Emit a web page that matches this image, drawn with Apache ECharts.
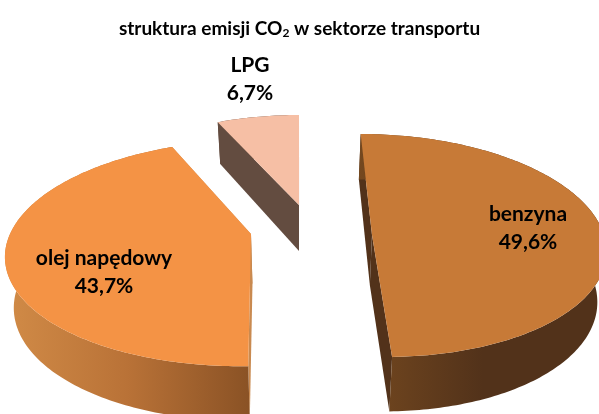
<html>
<head>
    <meta http-equiv="Content-Type" content="text/html; charset=utf-8" />
    <script src="https://cdn.jsdelivr.net/npm/echarts@6/dist/echarts.min.js"></script>
    <style>
        html, body { margin: 0; padding: 0; background: #fff; }
        #main { width: 599px; height: 414px; }
    </style>
    <title></title>
</head>
<body>
    <div id="main"></div>
    <script type="text/javascript">
        //dane
        var categories = ['benzyna', 'olej napędowy', 'LPG'];
        var shares = [49.6, 43.7, 6.7];
        var chartTitle = 'struktura emisji CO{sub|2} w sektorze transportu';

        //wyglad - kazdy wycinek ma wlasny rzut (wysuniety i w perspektywie)
        var views = [
            { cx: 372, cy: 235, rx: 232, ry: 110.5, p: 0.094, shear: 0.112, depth: 50, label: [528, 228],
              top: '#c77a37', wall: ['#74481f', '#52321a', '#52321a'], edge: '#52321a' },
            { cx: 251, cy: 234, rx: 241, ry: 110, p: 0.168, shear: -0.076, depth: 50, label: [104, 272],
              top: '#f49345', wall: ['#d18b47', '#b97237', '#8a5225'], edge: '#c98a50' },
            { cx: 299, cy: 205, rx: 217, ry: 99, p: 0.1, shear: 0, depth: 46, label: [250, 79],
              top: '#f6bfa5', wall: ['#634c40', '#634c40', '#634c40'], edge: '#634c40' }
        ];
        var vanishX = 300;
        var bottomScale = 0.97;

        function topPoint(v, deg) {
            var a = deg * Math.PI / 180;
            var w = 1 + v.p * Math.cos(a);
            var dy = -v.ry * Math.cos(a) / w;
            return [v.cx + v.rx * Math.sin(a) / w + v.shear * dy, v.cy + dy];
        }

        function bottomPoint(v, deg) {
            var t = topPoint(v, deg);
            var a = deg * Math.PI / 180;
            return [vanishX + (t[0] - vanishX) * bottomScale, t[1] + v.depth - 4.5 * Math.cos(a)];
        }

        function arc(fn, v, from, to) {
            var pts = [];
            var n = Math.ceil(Math.abs(to - from));
            for (var i = 0; i <= n; i++) {
                pts.push(fn(v, from + (to - from) * i / n));
            }
            return pts;
        }

        function renderSlice(params, api) {
            var idx = params.dataIndex;
            var v = views[idx];
            var before = 0;
            for (var i = 0; i < idx; i++) {
                before += shares[i];
            }
            var from = before / 100 * 360;
            var to = from + api.value(0) / 100 * 360;

            var topArc = arc(topPoint, v, from, to);
            var bottomArc = arc(bottomPoint, v, from, to);
            var apex = [v.cx, v.cy];
            var apexLow = [vanishX + (v.cx - vanishX) * bottomScale, v.cy + v.depth];

            var xs = topArc.concat(bottomArc).map(function (p) { return p[0]; });
            var minX = Math.min.apply(null, xs);
            var maxX = Math.max.apply(null, xs);
            var wallFill = new echarts.graphic.LinearGradient(minX, 0, maxX, 0, [
                { offset: 0, color: v.wall[0] },
                { offset: 0.5, color: v.wall[1] },
                { offset: 1, color: v.wall[2] }
            ], true);

            var last = topArc.length - 1;
            return {
                type: 'group',
                children: [
                    //sciany przekroju
                    {
                        type: 'polygon',
                        shape: { points: [topArc[0], apex, apexLow, bottomArc[0]] },
                        style: { fill: v.edge }
                    },
                    {
                        type: 'polygon',
                        shape: { points: [topArc[last], apex, apexLow, bottomArc[last]] },
                        style: { fill: v.edge }
                    },
                    //sciana zewnetrzna
                    {
                        type: 'polygon',
                        shape: { points: topArc.concat(bottomArc.slice().reverse()) },
                        style: { fill: wallFill }
                    },
                    //wierzch
                    {
                        type: 'polygon',
                        shape: { points: topArc.concat([apex]) },
                        style: { fill: v.top }
                    },
                    {
                        type: 'text',
                        z2: 10,
                        style: {
                            x: v.label[0],
                            y: v.label[1],
                            text: categories[idx] + '\n' + api.value(0).toFixed(1).replace('.', ',') + '%',
                            fill: '#000',
                            font: 'bold 21px Lato',
                            lineHeight: 28,
                            align: 'center',
                            verticalAlign: 'middle'
                        }
                    }
                ]
            };
        }

        var myChart = echarts.init(document.getElementById('main'));
        myChart.setOption({
            animation: false,
            title: {
                text: chartTitle,
                left: 'center',
                top: 13,
                textStyle: {
                    fontFamily: 'Lato',
                    fontWeight: 'bold',
                    fontSize: 19,
                    color: '#000',
                    rich: {
                        sub: { fontFamily: 'Lato', fontWeight: 'bold', fontSize: 12, color: '#000', padding: [9, 0, 0, 0] }
                    }
                }
            },
            series: [{
                type: 'custom',
                coordinateSystem: 'none',
                renderItem: renderSlice,
                data: shares.map(function (s) { return [s]; })
            }]
        });
    </script>
</body>
</html>
